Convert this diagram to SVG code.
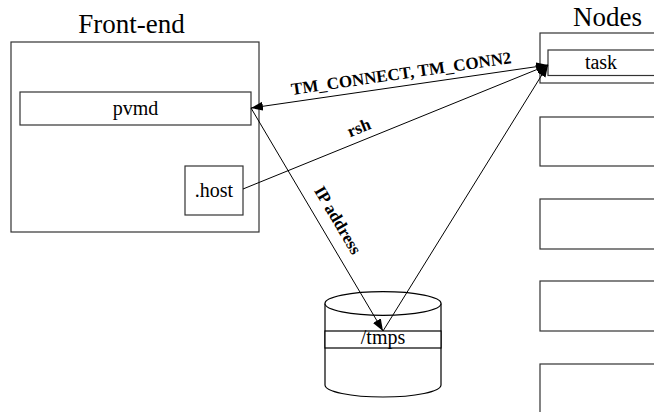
<svg xmlns="http://www.w3.org/2000/svg" width="654" height="412" viewBox="0 0 654 412">
<defs>
<style>
.box{fill:#fff;stroke:#333;stroke-width:1.2}
.cyl{fill:#fff;stroke:#000;stroke-width:1.2}
.edge{fill:none;stroke:#000;stroke-width:1}
</style>
<marker id="ah" markerUnits="userSpaceOnUse" markerWidth="13" markerHeight="10" refX="12" refY="4.5" orient="auto-start-reverse">
<path d="M0,0 L12,4.5 L0,9 Z" fill="#000"/>
</marker>
</defs>
<rect width="654" height="412" fill="#fff"/>

<g font-family="Liberation Serif, DejaVu Serif, serif" text-anchor="middle" fill="#000">
<g id="frontend">
<text font-size="27" x="131.5" y="33">Front-end</text>
<rect class="box" x="11" y="42" width="248" height="190"/>
</g>
<g id="pvmd">
<rect class="box" x="20" y="92" width="231" height="33"/>
<text font-size="20" x="135.5" y="115">pvmd</text>
</g>
<g id="host">
<rect class="box" x="185" y="166" width="58" height="49"/>
<text font-size="20" x="214" y="197">.host</text>
</g>

<g id="nodes">
<text font-size="27" x="607.5" y="26">Nodes</text>
<rect class="box" x="540" y="33" width="130" height="50"/>
</g>
<g id="task">
<rect class="box" x="548" y="50" width="120" height="25.5"/>
<text font-size="20" x="601" y="69">task</text>
</g>
<g id="node2"><rect class="box" x="540" y="117" width="130" height="49"/></g>
<g id="node3"><rect class="box" x="540" y="199" width="130" height="50"/></g>
<g id="node4"><rect class="box" x="540" y="281" width="130" height="50"/></g>
<g id="node5"><rect class="box" x="540" y="364" width="130" height="60"/></g>

<g id="tmps">
<path class="cyl" d="M325,303.5 L325,385 A58,12 0 0 0 441,385 L441,303.5"/>
<ellipse class="cyl" cx="383" cy="303.5" rx="58" ry="11.8"/>
<rect class="cyl" x="325" y="331" width="116" height="17"/>
<text font-size="20" x="383" y="344">/tmps</text>
</g>

<g id="connectors">
<line class="edge" x1="251" y1="108" x2="548" y2="65" marker-start="url(#ah)" marker-end="url(#ah)"/>
<line class="edge" x1="243" y1="189" x2="548" y2="65" marker-end="url(#ah)"/>
<line class="edge" x1="251" y1="108" x2="383" y2="331" marker-end="url(#ah)"/>
<line class="edge" x1="383" y1="331" x2="548" y2="65" marker-end="url(#ah)"/>
<text font-size="17" font-weight="bold" transform="translate(402,79) rotate(-8.24)">TM_CONNECT, TM_CONN2</text>
<text font-size="17" font-weight="bold" transform="translate(361,133) rotate(-22.1)">rsh</text>
<text font-size="17" font-weight="bold" transform="translate(333,223) rotate(59.4)">IP address</text>
</g>
</g>
</svg>
